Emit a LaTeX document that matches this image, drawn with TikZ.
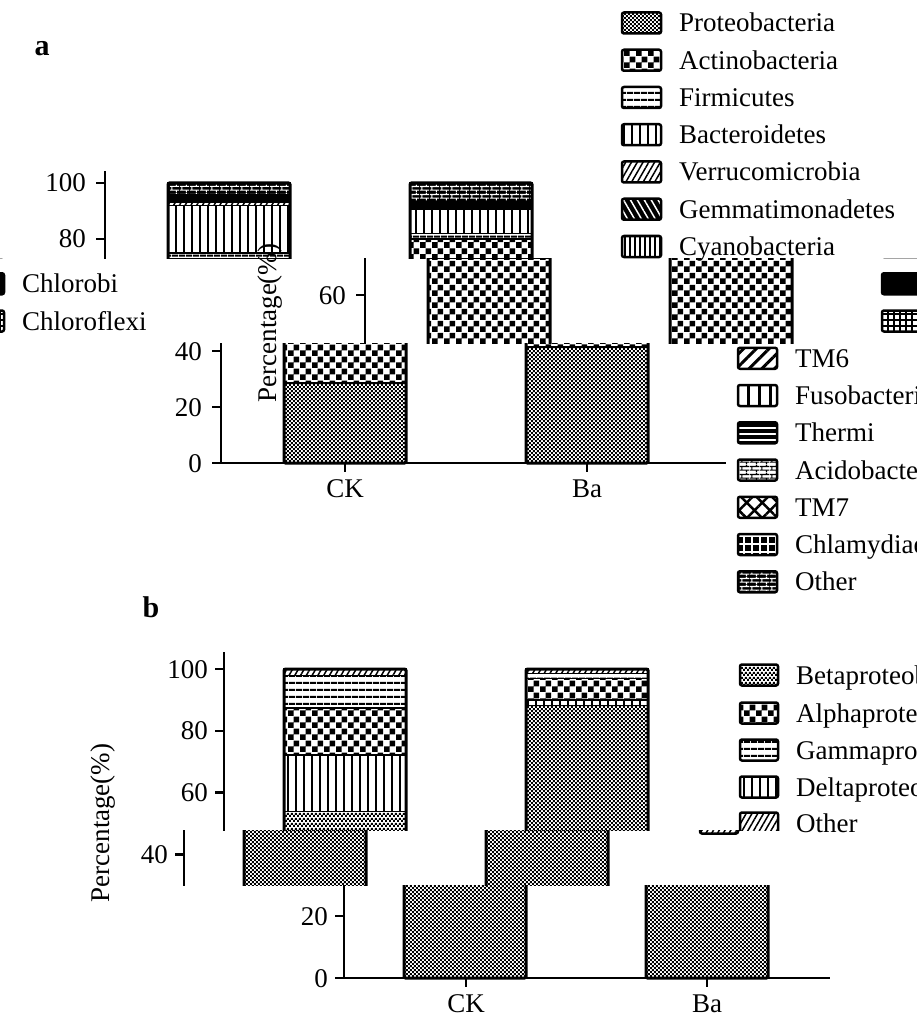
\documentclass[tikz,border=0pt]{standalone}
\usepackage{fontspec}
\setmainfont{Liberation Serif}
\usetikzlibrary{patterns,patterns.meta}

% pattern tiles
\pgfdeclarepatternformonly{bigchecks}{\pgfqpoint{0pt}{0pt}}{\pgfqpoint{12pt}{12pt}}{\pgfqpoint{12pt}{12pt}}{%
  \pgfpathrectangle{\pgfqpoint{0pt}{0pt}}{\pgfqpoint{6pt}{6pt}}%
  \pgfpathrectangle{\pgfqpoint{6pt}{6pt}}{\pgfqpoint{6pt}{6pt}}%
  \pgfusepath{fill}}
\pgfdeclarepatternformonly{finechecks}{\pgfqpoint{0pt}{0pt}}{\pgfqpoint{4.4pt}{4.4pt}}{\pgfqpoint{4.4pt}{4.4pt}}{%
  \pgfpathrectangle{\pgfqpoint{0pt}{0pt}}{\pgfqpoint{2.2pt}{2.2pt}}%
  \pgfpathrectangle{\pgfqpoint{2.2pt}{2.2pt}}{\pgfqpoint{2.2pt}{2.2pt}}%
  \pgfusepath{fill}}
\pgfdeclarepatternformonly{brickwall}{\pgfqpoint{0pt}{0pt}}{\pgfqpoint{10pt}{8pt}}{\pgfqpoint{10pt}{8pt}}{%
  \pgfsetlinewidth{1.2pt}%
  \pgfpathmoveto{\pgfqpoint{0pt}{2pt}}\pgfpathlineto{\pgfqpoint{10pt}{2pt}}%
  \pgfpathmoveto{\pgfqpoint{0pt}{6pt}}\pgfpathlineto{\pgfqpoint{10pt}{6pt}}%
  \pgfpathmoveto{\pgfqpoint{2pt}{2pt}}\pgfpathlineto{\pgfqpoint{2pt}{6pt}}%
  \pgfpathmoveto{\pgfqpoint{7pt}{6pt}}\pgfpathlineto{\pgfqpoint{7pt}{8pt}}%
  \pgfpathmoveto{\pgfqpoint{7pt}{0pt}}\pgfpathlineto{\pgfqpoint{7pt}{2pt}}%
  \pgfusepath{stroke}}

\tikzstyle{axisline}=[line width=2.5pt, line cap=rect]
\tikzstyle{lbl}=[font=\fontsize{27}{30}\selectfont, inner sep=0pt, text height=18pt, text depth=0pt]
\tikzstyle{panel}=[font=\fontsize{30}{32}\selectfont\bfseries]
\tikzstyle{seg}=[draw=black, line width=1.2pt]
\tikzstyle{barframe}=[draw=black, line width=3pt, rounded corners=1.5pt]
\tikzstyle{swatch}=[draw=black, line width=2.5pt, rounded corners=2pt]

% phyla
\tikzstyle{proteo}=[pattern=finechecks, pattern color=black]
\tikzstyle{actino}=[pattern=bigchecks, pattern color=black]
\tikzstyle{firmi}=[pattern={Lines[angle=0, distance=6.5pt, line width=2pt]}]
\tikzstyle{bactero}=[pattern={Lines[angle=90, distance=8pt, line width=2pt]}]
\tikzstyle{verruco}=[pattern={Lines[angle=60, distance=5pt, line width=1.5pt]}]
\tikzstyle{gemma}=[preaction={fill=black}, pattern={Lines[angle=-60, distance=6pt, line width=1.5pt]}, pattern color=white]
\tikzstyle{cyano}=[pattern={Lines[angle=90, distance=5pt, line width=2.5pt]}]
\tikzstyle{chlorobi}=[fill=black]
\tikzstyle{chloroflexi}=[pattern={Hatch[angle=0, distance=6pt, line width=1.5pt]}]
\tikzstyle{tmsix}=[pattern={Lines[angle=45, distance=9pt, line width=3pt]}]
\tikzstyle{fuso}=[pattern={Lines[angle=90, distance=11pt, line width=3pt]}]
\tikzstyle{thermi}=[preaction={fill=black}, pattern={Lines[angle=0, distance=6pt, line width=2pt]}, pattern color=white]
\tikzstyle{acido}=[pattern=brickwall, pattern color=black]
\tikzstyle{tmseven}=[pattern={Hatch[angle=45, distance=11pt, line width=2.5pt]}]
\tikzstyle{chlamy}=[preaction={fill=black}, pattern={Hatch[angle=0, distance=8pt, line width=1.5pt]}, pattern color=white]
\tikzstyle{othera}=[preaction={fill=black}, pattern=brickwall, pattern color=white]

% stacked bar: left x, zero y, px per percent, list
\newcommand\barstack[4]{%
  \gdef\barlo{0}
  \foreach \st/\v in {#4}{
    \draw[seg,\st] (#1,{#2-\barlo*#3}) rectangle ++(122,{-\v*#3});
    \pgfmathsetmacro\barhi{\barlo+\v}
    \xdef\barlo{\barhi}
  }
  \draw[barframe] (#1,#2) rectangle ++(122,{-100*#3});
}

% text at the offset of the band it is printed in
\newcommand\tnode[5]{%
  \pgfmathsetmacro\ty{#4}%
  \pgfmathsetmacro\tx{#3+((\ty<258)?0:((\ty<343)?260:((\ty<830)?116:((\ty<885)?76:236))))}%
  \pgfmathsetmacro\tx{(\tx>917)?(\tx-917):\tx}%
  \node[lbl,#1] (#2) at (\tx,\ty) {#5};
}

\newcommand\figshapes{%
  % a: phyla
  \draw[axisline] (105,172) -- (105,463) -- (609,463);
  \foreach \t in {0,20,40,60,80,100}{
    \draw[axisline] (97,{463-2.8*\t}) -- (105,{463-2.8*\t});
  }
  \barstack{168}{463}{2.8}{proteo/28.6, actino/44.4, firmi/2, bactero/17, verruco/1, gemma/.6, cyano/.3, chlorobi/.2, chloroflexi/.4, tmsix/.1, fuso/.3, thermi/.2, acido/.3, tmseven/.1, chlamy/.2, othera/4.3}
  \barstack{410}{463}{2.8}{proteo/41.4, actino/38.6, firmi/2, bactero/8.5, verruco/.6, gemma/.4, cyano/.3, chlorobi/.2, chloroflexi/.3, tmsix/.1, fuso/.2, thermi/.2, acido/.3, tmseven/.1, chlamy/.2, othera/6.6}
  \draw[axisline] (229,463) -- (229,471);
  \draw[axisline] (471,463) -- (471,471);
  \foreach \st [count=\i from 0] in {proteo, actino, firmi, bactero, verruco, gemma, cyano, chlorobi, chloroflexi, tmsix, fuso, thermi, acido, tmseven, chlamy, othera}{
    \draw[swatch,\st] (622,{23+37.25*\i-10.5}) rectangle ++(39,21);
  }
  % b: proteobacteria classes
  \draw[axisline] (108,653) -- (108,978) -- (593,978);
  \foreach \t in {0,20,40,60,80,100}{
    \draw[axisline] (100,{978-3.09*\t}) -- (108,{978-3.09*\t});
  }
  \barstack{168}{978}{3.09}{proteo/54, bactero/18.2, actino/15.2, firmi/10.4, verruco/2.2}
  \barstack{410}{978}{3.09}{proteo/88.3, bactero/1.7, actino/7, firmi/1.5, verruco/1.5}
  \draw[axisline] (230,978) -- (230,986);
  \draw[axisline] (471,978) -- (471,986);
  \foreach \st/\yy in {proteo/675, actino/713, firmi/750, bactero/787, verruco/823}{
    \draw[swatch,\st] (624,{\yy-10.5}) rectangle ++(38,21);
  }
}

\begin{document}
\begin{tikzpicture}[x=1pt, y=-1pt]
  \useasboundingbox (0,0) rectangle (917,1016);
  % horizontal bands as printed: rows offset, with wrap
  \foreach \ya/\yb/\sh in {0/258/0, 258/343/260, 343/830/116, 830/885/76, 885/1016/236}{
    \begin{scope}
      \clip (0,\ya) rectangle (917,\yb);
      \begin{scope}[xshift=\sh]
        \figshapes
      \end{scope}
      \begin{scope}[xshift=\sh-917]
        \figshapes
      \end{scope}
    \end{scope}
  }

  % a
  \tnode{panel}{taga}{42}{47}{a}
  \foreach \t in {0,20,40,60,80,100}{
    \tnode{anchor=east}{ya\t}{86}{463-2.8*\t}{\t}
  }
  \tnode{rotate=90}{ytitlea}{7}{323}{Percentage(\%)}
  \tnode{anchor=north}{cka}{229}{479}{CK}
  \tnode{anchor=north}{baa}{471}{479}{Ba}
  \foreach \nm [count=\i from 0] in {Proteobacteria, Actinobacteria, Firmicutes, Bacteroidetes, Verrucomicrobia, Gemmatimonadetes, Cyanobacteria, Chlorobi, Chloroflexi, TM6, Fusobacteria, Thermi, Acidobacteria, TM7, Chlamydiae, Other}{
    \tnode{anchor=west}{lega\i}{679}{23+37.25*\i}{\nm}
  }

  % b
  \tnode{panel}{tagb}{35}{608}{b}
  \foreach \t in {0,20,40,60,80,100}{
    \tnode{anchor=east}{yb\t}{92}{978-3.09*\t}{\t}
  }
  \node[lbl, rotate=90] (ytitleb) at (100,823) {Percentage(\%)};
  \tnode{anchor=north}{ckb}{230}{994}{CK}
  \tnode{anchor=north}{bab}{471}{994}{Ba}
  \foreach \nm/\yy in {Betaproteobacteria/675, Alphaproteobacteria/713, Gammaproteobacteria/750, Deltaproteobacteria/787, Other/823}{
    \tnode{anchor=west}{legb\yy}{680}{\yy}{\nm}
  }
\end{tikzpicture}
\end{document}
